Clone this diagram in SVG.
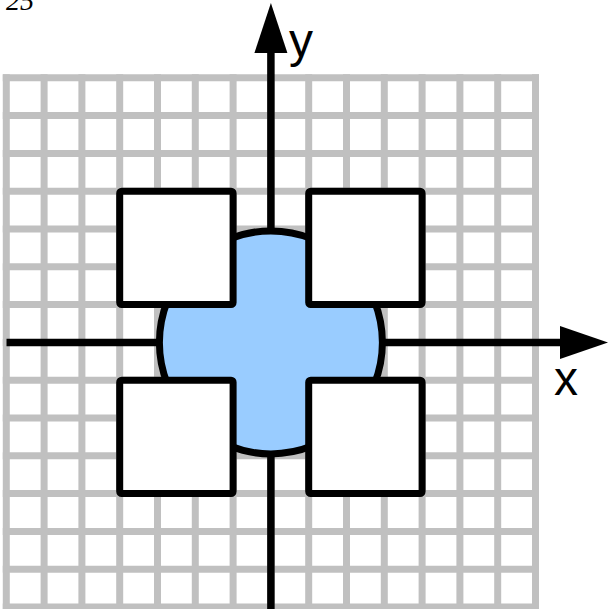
<svg xmlns="http://www.w3.org/2000/svg" width="609" height="609" viewBox="0 0 609 609">
<style>
.grid line{stroke:#c0c0c0;stroke-width:7;stroke-linecap:square}
.axis{stroke:#000;stroke-width:7.5;fill:none}
.head{fill:#000}
.sq{fill:#fff;stroke:#000;stroke-width:7;stroke-linejoin:round}
.lbl{font-family:"Liberation Sans",Arial,sans-serif;font-size:48px;fill:#000}
</style>
<rect width="609" height="609" fill="#fff"/>
<text x="6" y="10" font-family="Liberation Serif,serif" font-size="28" font-style="italic">25</text>
<g class="grid" id="grid">
<line x1="6.3" y1="77.8" x2="6.3" y2="607.2"/>
<line x1="44.1" y1="77.8" x2="44.1" y2="607.2"/>
<line x1="81.9" y1="77.8" x2="81.9" y2="607.2"/>
<line x1="119.7" y1="77.8" x2="119.7" y2="607.2"/>
<line x1="157.5" y1="77.8" x2="157.5" y2="607.2"/>
<line x1="195.3" y1="77.8" x2="195.3" y2="607.2"/>
<line x1="233.1" y1="77.8" x2="233.1" y2="607.2"/>
<line x1="270.9" y1="77.8" x2="270.9" y2="607.2"/>
<line x1="308.7" y1="77.8" x2="308.7" y2="607.2"/>
<line x1="346.5" y1="77.8" x2="346.5" y2="607.2"/>
<line x1="384.3" y1="77.8" x2="384.3" y2="607.2"/>
<line x1="422.1" y1="77.8" x2="422.1" y2="607.2"/>
<line x1="459.9" y1="77.8" x2="459.9" y2="607.2"/>
<line x1="497.7" y1="77.8" x2="497.7" y2="607.2"/>
<line x1="535.5" y1="77.8" x2="535.5" y2="607.2"/>
<line x1="6.3" y1="77.8" x2="535.5" y2="77.8"/>
<line x1="6.3" y1="115.6" x2="535.5" y2="115.6"/>
<line x1="6.3" y1="153.4" x2="535.5" y2="153.4"/>
<line x1="6.3" y1="191.2" x2="535.5" y2="191.2"/>
<line x1="6.3" y1="229" x2="535.5" y2="229"/>
<line x1="6.3" y1="266.8" x2="535.5" y2="266.8"/>
<line x1="6.3" y1="304.6" x2="535.5" y2="304.6"/>
<line x1="6.3" y1="342.4" x2="535.5" y2="342.4"/>
<line x1="6.3" y1="380.2" x2="535.5" y2="380.2"/>
<line x1="6.3" y1="418" x2="535.5" y2="418"/>
<line x1="6.3" y1="455.8" x2="535.5" y2="455.8"/>
<line x1="6.3" y1="493.6" x2="535.5" y2="493.6"/>
<line x1="6.3" y1="531.4" x2="535.5" y2="531.4"/>
<line x1="6.3" y1="569.2" x2="535.5" y2="569.2"/>
<line x1="6.3" y1="607" x2="535.5" y2="607"/>
</g>
<g id="connectors">
<line class="axis" x1="6.5" y1="342.4" x2="562" y2="342.4"/>
<polygon class="head" points="608,342.4 560,325.9 560,358.9"/>
<line class="axis" x1="270.9" y1="609" x2="270.9" y2="50"/>
<polygon class="head" points="270.9,3 254.4,53 287.4,53"/>
</g>
<text class="lbl" x="289" y="57">y</text>
<text class="lbl" x="554" y="395">x</text>
<g id="disc">
<circle cx="270.9" cy="342.4" r="111.5" fill="#99ccff" stroke="#000" stroke-width="7"/>
</g>
<g id="square-tl"><rect class="sq" x="119.7" y="191.2" width="113.4" height="113.4" rx="2"/></g>
<g id="square-tr"><rect class="sq" x="308.7" y="191.2" width="113.4" height="113.4" rx="2"/></g>
<g id="square-bl"><rect class="sq" x="119.7" y="380.2" width="113.4" height="113.4" rx="2"/></g>
<g id="square-br"><rect class="sq" x="308.7" y="380.2" width="113.4" height="113.4" rx="2"/></g>
</svg>
